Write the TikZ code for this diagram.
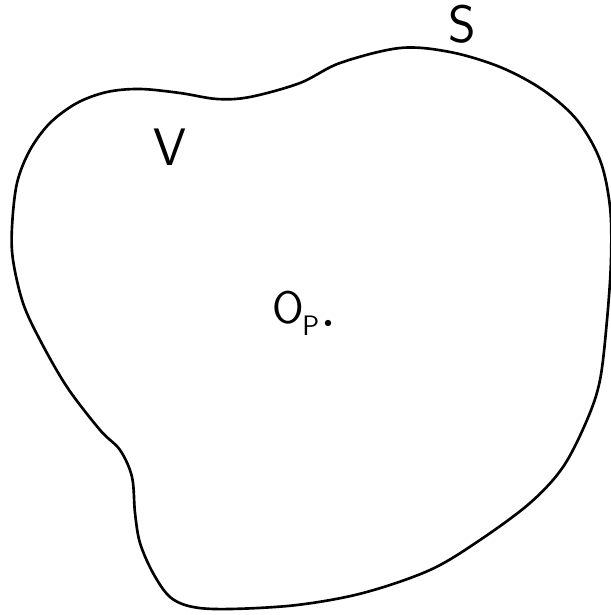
\documentclass[tikz,border=0pt]{standalone}
\usepackage{tikz}
\usetikzlibrary{positioning}

\tikzset{
  outline/.style={line width=1.5pt, line join=round},
  letter/.style={font=\sffamily\fontsize{30}{30}\selectfont, inner sep=0pt}
}

\begin{document}
\begin{tikzpicture}[x=0.02cm, y=-0.02cm]
      \useasboundingbox (0,0) rectangle (611,615);
      % Surface S bounding the volume V
      \draw[outline] plot[smooth cycle, tension=0.55] coordinates {
        (12,227) (17,183) (30,150) (50,123) (77,103) (107,92) (140,89)
        (180,93) (217,99) (250,97) (300,83) (340,63) (400,48) (450,52)
        (500,67) (543,90) (577,120) (600,160) (610,207) (611,260)
        (607,320) (600,380) (587,420) (563,467) (530,503) (480,540)
        (430,570) (363,593) (297,605) (230,609) (193,607) (170,597)
        (153,573) (140,543) (135,513) (132,477) (120,450) (100,430)
        (67,387) (40,340) (23,303) (13,260)};
      % Labels
      \node[letter] (surf) at (462,24) {S};
      \node[letter] (vol) at (170,147) {V};
      \node[letter, font=\sffamily\fontsize{26}{26}\selectfont] (orig) at (288,308) {O};
      \node[inner sep=0pt, font=\sffamily\fontsize{16}{16}\selectfont, anchor=south west]
           (sub) at (302,336) {P};
      % Point P
      \coordinate (pt) at (328,323);
      \fill (pt) circle (3.2);
    \end{tikzpicture}
\end{document}
